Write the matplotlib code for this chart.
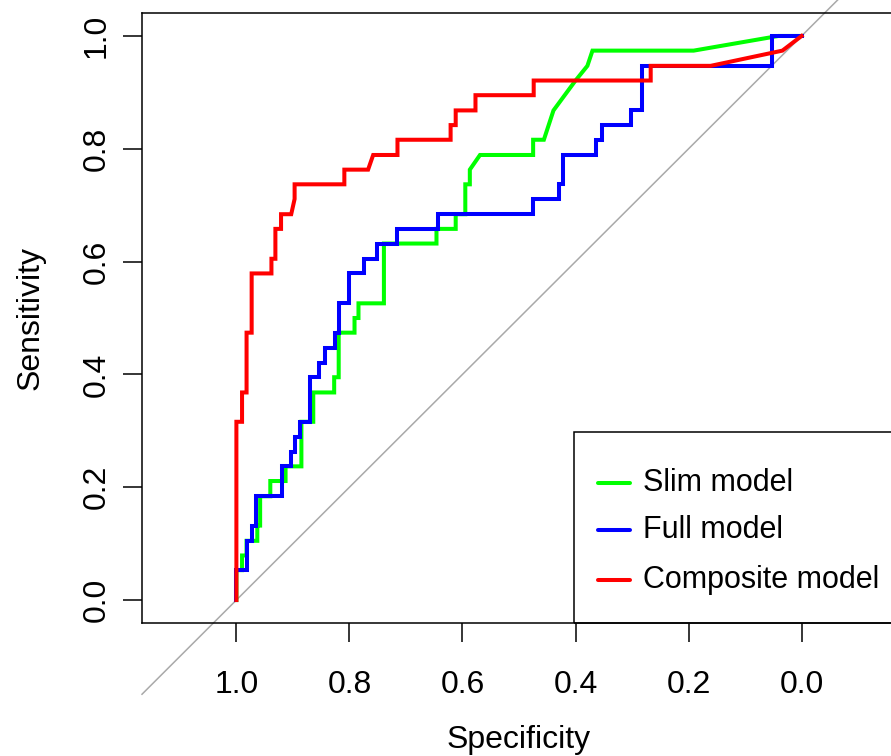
import matplotlib
matplotlib.use("Agg")
import matplotlib.pyplot as plt
from matplotlib.patches import Rectangle

plt.rcParams['font.family'] = ['Liberation Sans', 'DejaVu Sans']

# ROC curve vertices (specificity, sensitivity)
slim_spec = [1.0, 1.0, 0.990, 0.990, 0.982, 0.982, 0.963, 0.963, 0.958, 0.958, 0.940, 0.940,
             0.913, 0.913, 0.885, 0.885, 0.864, 0.864, 0.827, 0.827, 0.819, 0.819, 0.791, 0.791,
             0.784, 0.784, 0.739, 0.739, 0.646, 0.646, 0.612, 0.612, 0.595, 0.595, 0.587, 0.587,
             0.569, 0.475, 0.475, 0.456, 0.439, 0.400, 0.379, 0.370, 0.191, 0.041, 0.0]
slim_sens = [0.0, 0.053, 0.053, 0.079, 0.079, 0.105, 0.105, 0.132, 0.132, 0.184, 0.184, 0.211,
             0.211, 0.237, 0.237, 0.316, 0.316, 0.368, 0.368, 0.395, 0.395, 0.474, 0.474, 0.500,
             0.500, 0.526, 0.526, 0.632, 0.632, 0.658, 0.658, 0.684, 0.684, 0.737, 0.737, 0.763,
             0.789, 0.789, 0.816, 0.816, 0.868, 0.921, 0.947, 0.974, 0.974, 1.0, 1.0]

full_spec = [1.0, 1.0, 0.982, 0.982, 0.972, 0.972, 0.965, 0.965, 0.920, 0.920, 0.903, 0.903,
             0.896, 0.896, 0.887, 0.887, 0.869, 0.869, 0.853, 0.853, 0.844, 0.844, 0.826, 0.826,
             0.819, 0.819, 0.801, 0.801, 0.775, 0.775, 0.751, 0.751, 0.716, 0.716, 0.644, 0.644,
             0.475, 0.475, 0.430, 0.430, 0.422, 0.422, 0.363, 0.363, 0.353, 0.353, 0.301, 0.301,
             0.282, 0.282, 0.052, 0.052, 0.0]
full_sens = [0.0, 0.053, 0.053, 0.105, 0.105, 0.132, 0.132, 0.184, 0.184, 0.237, 0.237, 0.263,
             0.263, 0.289, 0.289, 0.316, 0.316, 0.395, 0.395, 0.421, 0.421, 0.447, 0.447, 0.474,
             0.474, 0.526, 0.526, 0.579, 0.579, 0.605, 0.605, 0.632, 0.632, 0.658, 0.658, 0.684,
             0.684, 0.711, 0.711, 0.737, 0.737, 0.789, 0.789, 0.816, 0.816, 0.842, 0.842, 0.868,
             0.868, 0.947, 0.947, 1.0, 1.0]

comp_spec = [1.0, 1.0, 0.990, 0.990, 0.982, 0.982, 0.973, 0.973, 0.938, 0.938, 0.931, 0.931,
             0.921, 0.921, 0.903, 0.897, 0.897, 0.809, 0.809, 0.767, 0.758, 0.715, 0.715, 0.621,
             0.621, 0.612, 0.612, 0.577, 0.577, 0.474, 0.474, 0.267, 0.267, 0.161, 0.034, 0.0]
comp_sens = [0.0, 0.316, 0.316, 0.368, 0.368, 0.474, 0.474, 0.579, 0.579, 0.605, 0.605, 0.658,
             0.658, 0.684, 0.684, 0.711, 0.737, 0.737, 0.763, 0.763, 0.789, 0.789, 0.816, 0.816,
             0.842, 0.842, 0.868, 0.868, 0.895, 0.895, 0.921, 0.921, 0.947, 0.947, 0.974, 1.0]

labels = ['Slim model', 'Full model', 'Composite model']
colors = ['#00ff00', '#0000ff', '#ff0000']
ticks = [0.0, 0.2, 0.4, 0.6, 0.8, 1.0]
tick_labels = ['0.0', '0.2', '0.4', '0.6', '0.8', '1.0']

W, H = 891, 756
fig = plt.figure(figsize=(W / 100, H / 100), dpi=100)
ax = fig.add_axes([142 / W, (H - 622.6) / H, 754 / W, 609.2 / H])
ax.set_xlim(1.167, -0.167)
ax.set_ylim(-0.04, 1.04)

# chance diagonal, runs past the box like R's abline does
ax.plot([1.167, -0.08], [-0.167, 1.08], color='#a9a9a9', lw=1.1, clip_on=False, zorder=1)

curves = [(slim_spec, slim_sens), (full_spec, full_sens), (comp_spec, comp_sens)]
for (sp, se), c in zip(curves, colors):
    ax.plot(sp, se, color=c, lw=2.9, solid_joinstyle='miter', zorder=3)

# axes styling
for s in ax.spines.values():
    s.set_linewidth(1.1)
ax.set_xticks(ticks)
ax.set_xticklabels(tick_labels)
ax.set_yticks(ticks)
ax.set_yticklabels(tick_labels, rotation=90, va='center')
ax.tick_params(axis='both', length=14, width=1.1, labelsize=23, color='black')
ax.tick_params(axis='x', pad=20)
ax.tick_params(axis='y', pad=8)
ax.set_xlabel('Specificity', fontsize=23, labelpad=18)
ax.set_ylabel('Sensitivity', fontsize=23, labelpad=26)

# legend box drawn by hand, like R's legend("bottomright")
leg_x0, leg_y0 = 0.402, 0.298
ax.add_patch(Rectangle((leg_x0, -0.04), -0.6, leg_y0 + 0.04, fill=False, ec='black',
                       lw=1.1, zorder=4, clip_on=False))
leg_rows = [0.208, 0.125, 0.036]
for lab, c, yy in zip(labels, colors, leg_rows):
    ax.plot([0.361, 0.303], [yy, yy], color=c, lw=2.9, solid_capstyle='round', zorder=5)
    ax.text(0.281, yy, lab, fontsize=22, va='center', ha='left', zorder=5)

fig.savefig('out.png', dpi=100)
